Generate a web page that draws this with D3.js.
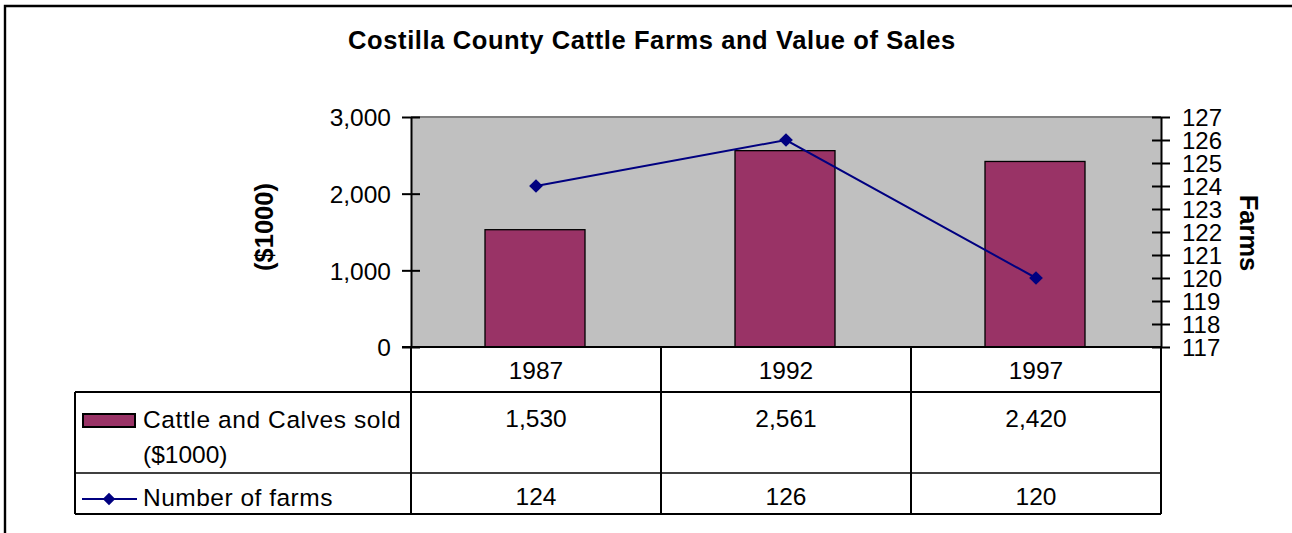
<!DOCTYPE html>
<html><head><meta charset="utf-8">
<script src="https://cdn.jsdelivr.net/npm/d3@7"></script>
<style>
html,body{margin:0;padding:0;background:#fff;overflow:hidden}
text{font-family:"Liberation Sans",Arial,sans-serif;fill:#000}
</style></head>
<body>
<svg id="c" width="1292" height="533"></svg>
<script>
const title = "Costilla County Cattle Farms and Value of Sales";
const years = ["1987", "1992", "1997"];
const sales = [1530, 2561, 2420];
const farms = [124, 126, 120];
const leftTicks = [0, 1000, 2000, 3000];
const rightTicks = [117, 118, 119, 120, 121, 122, 123, 124, 125, 126, 127];
const seriesNames = ["Cattle and Calves sold", "($1000)", "Number of farms"];
const leftTitle = "($1000)";
const rightTitle = "Farms";

const svg = d3.select("#c");
const L = 411, R = 1161, T = 117, B = 347;
const FS = "24.5px";

// outer frame (top and left edges visible)
svg.append("path").attr("d", "M5,560V6H1400").attr("fill", "none").attr("stroke", "#000").attr("stroke-width", 2.4);

svg.append("text").attr("x", 652).attr("y", 49).attr("text-anchor", "middle")
  .style("font-size", "25.5px").style("font-weight", "bold").style("letter-spacing", "0.6px").text(title);

const x = d3.scaleBand().domain(years).range([L, R]).paddingInner(0).paddingOuter(0);
const yL = d3.scaleLinear().domain([0, 3000]).range([B, T]);
const yR = d3.scaleLinear().domain([117, 127]).range([B, T]);

// plot area
svg.append("rect").attr("x", L).attr("y", T).attr("width", R - L).attr("height", B - T).attr("fill", "#c0c0c0");
svg.append("line").attr("x1", L).attr("x2", R).attr("y1", T).attr("y2", T).attr("stroke", "#808080").attr("stroke-width", 2);

// bars
const bw = x.bandwidth() * 0.4;
svg.selectAll("rect.bar").data(sales).enter().append("rect").attr("class", "bar")
  .attr("x", (d, i) => x(years[i]) + x.bandwidth() / 2 - bw / 2 - 1)
  .attr("y", d => yL(d)).attr("width", bw).attr("height", d => B - yL(d))
  .attr("fill", "#993366").attr("stroke", "#000").attr("stroke-width", 1.3);

// line
const line = d3.line().x((d, i) => x(years[i]) + x.bandwidth() / 2).y(d => yR(d));
svg.append("path").datum(farms).attr("d", line).attr("fill", "none").attr("stroke", "#000080").attr("stroke-width", 2);
svg.selectAll("path.mk").data(farms).enter().append("path").attr("class", "mk")
  .attr("d", d3.symbol().type(d3.symbolDiamond2).size(120))
  .attr("transform", (d, i) => `translate(${x(years[i]) + x.bandwidth() / 2},${yR(d)})`)
  .attr("fill", "#000080");

// left axis
const axL = svg.append("g").attr("transform", `translate(${L},0)`)
  .call(d3.axisLeft(yL).tickValues(leftTicks).tickFormat(d3.format(",")).tickSizeInner(9).tickSizeOuter(0).tickPadding(11));
axL.select(".domain").attr("stroke", "#000").attr("stroke-width", 2);
axL.selectAll(".tick line").attr("stroke", "#000").attr("stroke-width", 2).attr("x2", -9).attr("x1", 9);
axL.selectAll(".tick text").style("font-size", FS).attr("dy", "0.36em").attr("font-family", null);

// right axis
const axR = svg.append("g").attr("transform", `translate(${R},0)`)
  .call(d3.axisRight(yR).tickValues(rightTicks).tickSizeInner(9).tickSizeOuter(0).tickPadding(12));
axR.select(".domain").attr("stroke", "#000").attr("stroke-width", 2);
axR.selectAll(".tick line").attr("stroke", "#000").attr("stroke-width", 2).attr("x1", -9).attr("x2", 9);
axR.selectAll(".tick text").style("font-size", "24px").attr("dy", "0.36em").attr("font-family", null);

// bottom axis line
svg.append("line").attr("x1", L - 9).attr("x2", R).attr("y1", B).attr("y2", B).attr("stroke", "#000").attr("stroke-width", 2);

// axis titles
svg.append("text").attr("transform", "translate(273,227) rotate(-90)").attr("text-anchor", "middle")
  .style("font-size", "25.5px").style("font-weight", "bold").text(leftTitle);
svg.append("text").attr("transform", "translate(1240,233) rotate(90)").attr("text-anchor", "middle")
  .style("font-size", "25.5px").style("font-weight", "bold").text(rightTitle);

// data table
const tL = 75, r1 = 392, r2 = 473, r3 = 514;
const g = svg.append("g");
const ln = (x1, y1, x2, y2, w) => g.append("line").attr("x1", x1).attr("y1", y1).attr("x2", x2).attr("y2", y2).attr("stroke", "#000").attr("stroke-width", w);
years.forEach((yv, i) => { if (i > 0) ln(x(yv), B, x(yv), r3, 2); });
ln(L, B, L, r3, 2);
ln(R, B, R, r3, 2);
ln(tL, r1, tL, r3, 2);
ln(tL, r1, R, r1, 2);
ln(tL, r2, R, r2, 1.3);
ln(tL, r3, R, r3, 2);

const cx = d => x(d) + x.bandwidth() / 2;
g.selectAll("text.yr").data(years).enter().append("text").attr("x", d => cx(d)).attr("y", 379)
  .attr("text-anchor", "middle").style("font-size", FS).text(d => d);
g.selectAll("text.sv").data(sales).enter().append("text").attr("x", (d, i) => cx(years[i])).attr("y", 427)
  .attr("text-anchor", "middle").style("font-size", FS).text(d => d3.format(",")(d));
g.selectAll("text.fv").data(farms).enter().append("text").attr("x", (d, i) => cx(years[i])).attr("y", 505)
  .attr("text-anchor", "middle").style("font-size", FS).text(d => d);

// legend keys
g.append("rect").attr("x", 83).attr("y", 414).attr("width", 52).attr("height", 13)
  .attr("fill", "#993366").attr("stroke", "#000").attr("stroke-width", 2);
g.append("text").attr("x", 143).attr("y", 428).style("font-size", FS).style("letter-spacing", "0.6px").text(seriesNames[0]);
g.append("text").attr("x", 143).attr("y", 463).style("font-size", FS).text(seriesNames[1]);
g.append("line").attr("x1", 82).attr("x2", 137).attr("y1", 499).attr("y2", 499).attr("stroke", "#000080").attr("stroke-width", 2);
g.append("path").attr("d", d3.symbol().type(d3.symbolDiamond2).size(100)).attr("transform", "translate(109,499)").attr("fill", "#000080");
g.append("text").attr("x", 143).attr("y", 506).style("font-size", FS).style("letter-spacing", "0.5px").text(seriesNames[2]);
</script>
</body></html>
